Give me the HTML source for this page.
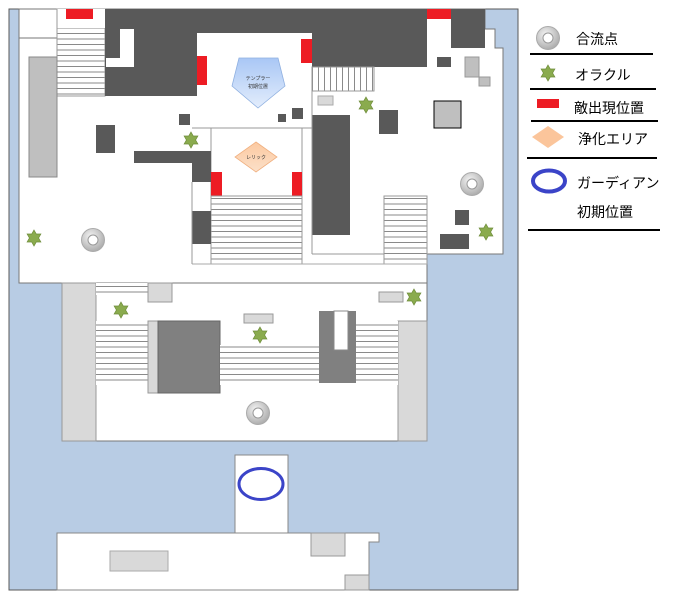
<!DOCTYPE html>
<html><head><meta charset="utf-8"><style>
html,body{margin:0;padding:0;background:#fff;}
svg{display:block;}
text{font-family:"Liberation Sans","Noto Sans CJK JP",sans-serif;}
</style></head><body>
<svg width="673" height="600" viewBox="0 0 673 600" xmlns="http://www.w3.org/2000/svg">
<defs>
<pattern id="sh" width="10" height="5.5" patternUnits="userSpaceOnUse">
<rect width="10" height="5.5" fill="#fff"/><line x1="0" y1="0.5" x2="10" y2="0.5" stroke="#8a8a8a" stroke-width="1"/></pattern>
<pattern id="sv" width="6" height="10" patternUnits="userSpaceOnUse">
<rect width="6" height="10" fill="#fff"/><line x1="0.5" y1="0" x2="0.5" y2="10" stroke="#8a8a8a" stroke-width="1"/></pattern>
<linearGradient id="bl" x1="0" y1="0" x2="0" y2="1"><stop offset="0" stop-color="#a9c7f5"/><stop offset="1" stop-color="#e3edfc"/></linearGradient>
<linearGradient id="or" x1="0" y1="0" x2="0" y2="1"><stop offset="0" stop-color="#fcc9a0"/><stop offset="1" stop-color="#fbe0c9"/></linearGradient>
<radialGradient id="cg" cx="0.4" cy="0.35" r="0.7"><stop offset="0" stop-color="#f4f4f4"/><stop offset="1" stop-color="#a8a8a8"/></radialGradient>
<g id="ring"><circle r="11.5" fill="url(#cg)" stroke="#aaa" stroke-width="1"/><circle r="5" fill="#fff" stroke="#999" stroke-width="1"/></g>
<polygon id="star" points="0,-8 2.3,-4 6.9,-4 4.6,0 6.9,4 2.3,4 0,8 -2.3,4 -6.9,4 -4.6,0 -6.9,-4 -2.3,-4" fill="#8aab4e" stroke="#6e8c3a" stroke-width="0.7"/>
</defs>
<!-- map background -->
<rect x="9" y="9" width="509" height="581" fill="#b8cce4" stroke="#5a5a5a" stroke-width="1"/>
<!-- top white area -->
<polygon points="19,9 485,9 485,29 495,29 495,48 503,48 503,254 427,254 427,321 398,321 62,321 62,283 19,283" fill="#fff" stroke="#777" stroke-width="1"/>
<rect x="62" y="283" width="365" height="158" fill="#fff" stroke="#777" stroke-width="1"/>
<line x1="19" y1="38" x2="57" y2="38" stroke="#777"/>
<!-- top-left stair -->
<rect x="57" y="9" width="48" height="87" fill="url(#sh)" stroke="#999"/>
<rect x="57" y="9" width="48" height="19" fill="#fff"/>
<line x1="57" y1="9" x2="57" y2="96" stroke="#999"/>
<rect x="66" y="9" width="27" height="10" fill="#ed1c24"/>
<!-- big dark top -->
<polygon points="105,9 427,9 427,67 312,67 312,33 197,33 197,96 105,96" fill="#595959"/>
<rect x="120" y="29" width="14" height="38" fill="#fff"/>
<rect x="106" y="58" width="28" height="9" fill="#fff"/>
<rect x="451" y="9" width="34" height="39" fill="#595959"/>
<rect x="427" y="9" width="24" height="10" fill="#ed1c24"/>
<rect x="197" y="56" width="10" height="29" fill="#ed1c24"/>
<rect x="301" y="39" width="11" height="24" fill="#ed1c24"/>
<!-- tempura room -->
<polygon points="239,58 278,58 285,86 258,108 232,86" fill="url(#bl)" stroke="#8fb0e0" stroke-width="0.8"/>
<text x="258" y="80" font-size="5" text-anchor="middle" fill="#333">テンプラー</text>
<text x="258" y="88" font-size="5" text-anchor="middle" fill="#333">初期位置</text>
<rect x="179" y="114" width="11" height="11" fill="#595959"/>
<rect x="278" y="114" width="8" height="8" fill="#595959"/>
<rect x="292" y="108" width="11" height="11" fill="#595959"/>
<line x1="192" y1="128" x2="312" y2="128" stroke="#999"/>
<!-- right of tempura -->
<rect x="312" y="67" width="62" height="24" fill="url(#sv)" stroke="#999"/>
<rect x="318" y="96" width="15" height="9" fill="#d9d9d9" stroke="#aaa"/>
<rect x="312" y="115" width="38" height="120" fill="#595959"/>
<line x1="312" y1="91" x2="312" y2="254" stroke="#999"/>
<line x1="312" y1="254" x2="384" y2="254" stroke="#999"/>
<rect x="379" y="110" width="19" height="24" fill="#595959"/>
<rect x="437" y="57" width="14" height="10" fill="#595959"/>
<rect x="465" y="57" width="14" height="20" fill="#bfbfbf" stroke="#999"/>
<rect x="479" y="77" width="11" height="9" fill="#bfbfbf" stroke="#999"/>
<rect x="434" y="101" width="27" height="27" fill="#bfbfbf" stroke="#000" stroke-width="1"/>
<rect x="455" y="210" width="14" height="15" fill="#595959"/>
<rect x="440" y="234" width="29" height="15" fill="#595959"/>
<rect x="384" y="196" width="43" height="68" fill="url(#sh)" stroke="#999"/>
<!-- relic room -->
<line x1="211" y1="128" x2="211" y2="264" stroke="#999"/>
<line x1="302" y1="128" x2="302" y2="264" stroke="#999"/>
<polygon points="256,142 277,157 256,172 235,157" fill="url(#or)" stroke="#f0b080" stroke-width="0.8"/>
<text x="256" y="159" font-size="5" text-anchor="middle" fill="#333">レリック</text>
<rect x="211" y="172" width="11" height="24" fill="#ed1c24"/>
<rect x="292" y="172" width="10" height="24" fill="#ed1c24"/>
<rect x="211" y="196" width="91" height="68" fill="url(#sh)" stroke="#999"/>
<line x1="192" y1="264" x2="427" y2="264" stroke="#aaa"/>
<!-- left column -->
<polygon points="134,151 211,151 211,182 192,182 192,163 134,163" fill="#595959"/>
<rect x="192" y="211" width="19" height="33" fill="#595959"/>
<line x1="192" y1="182" x2="192" y2="264" stroke="#999"/>
<rect x="96" y="125" width="19" height="28" fill="#595959"/>
<rect x="29" y="57" width="28" height="120" fill="#bfbfbf" stroke="#888"/>
<!-- middle block -->
<rect x="62" y="283" width="34" height="158" fill="#d9d9d9" stroke="#999"/>
<rect x="398" y="321" width="29" height="120" fill="#d9d9d9" stroke="#999"/>
<rect x="96" y="283" width="52" height="12" fill="url(#sh)"/>
<rect x="96" y="321" width="52" height="64" fill="url(#sh)"/>
<rect x="148" y="283" width="24" height="19" fill="#d9d9d9" stroke="#999"/>
<rect x="148" y="321" width="10" height="72" fill="#d9d9d9" stroke="#999"/>
<rect x="158" y="321" width="62" height="72" fill="#808080" stroke="#666"/>
<rect x="220" y="345" width="99" height="40" fill="url(#sh)"/>
<rect x="244" y="314" width="29" height="9" fill="#d9d9d9" stroke="#999"/>
<rect x="319" y="311" width="37" height="72" fill="#808080"/>
<rect x="334" y="311" width="14" height="39" fill="#fff" stroke="#888"/>
<rect x="356" y="321" width="42" height="64" fill="url(#sh)"/>
<rect x="379" y="292" width="24" height="10" fill="#d9d9d9" stroke="#999"/>
<!-- guardian -->
<rect x="235" y="455" width="53" height="78" fill="#fff" stroke="#888"/>
<ellipse cx="261" cy="484" rx="22" ry="15.5" fill="none" stroke="#3b44c8" stroke-width="3"/>
<!-- bottom block -->
<polygon points="57,533 379,533 379,542 369,542 369,590 57,590" fill="#fff" stroke="#888"/>
<rect x="311" y="533" width="34" height="23" fill="#d9d9d9" stroke="#999"/>
<rect x="110" y="551" width="58" height="20" fill="#d9d9d9" stroke="#aaa"/>
<rect x="345" y="575" width="24" height="15" fill="#d9d9d9" stroke="#999"/>
<!-- markers -->
<use href="#ring" x="93" y="240"/>
<use href="#ring" x="472" y="184"/>
<use href="#ring" x="258" y="413"/>
<use href="#star" x="191" y="140"/>
<use href="#star" x="34" y="238"/>
<use href="#star" x="366" y="105"/>
<use href="#star" x="486" y="232"/>
<use href="#star" x="121" y="310"/>
<use href="#star" x="260" y="335"/>
<use href="#star" x="414" y="297"/>
<!-- legend -->
<use href="#ring" x="548" y="38"/>
<text x="576" y="44" font-size="14" fill="#000">合流点</text>
<line x1="530" y1="54" x2="653" y2="54" stroke="#000" stroke-width="2"/>
<use href="#star" x="548" y="73"/>
<text x="575" y="80" font-size="14" fill="#000">オラクル</text>
<line x1="530" y1="89" x2="656" y2="89" stroke="#000" stroke-width="2"/>
<rect x="537" y="99" width="22" height="9" fill="#ed1c24"/>
<text x="574" y="113" font-size="14" fill="#000">敵出現位置</text>
<line x1="531" y1="121" x2="658" y2="121" stroke="#000" stroke-width="2"/>
<polygon points="548,126 564,137 548,148 532,137" fill="#fbc59b"/>
<text x="578" y="144" font-size="14" fill="#000">浄化エリア</text>
<line x1="527" y1="158" x2="657" y2="158" stroke="#000" stroke-width="2"/>
<ellipse cx="549" cy="181" rx="16" ry="10.5" fill="none" stroke="#3b44c8" stroke-width="4"/>
<text x="577" y="188" font-size="14" fill="#000">ガーディアン</text>
<text x="577" y="217" font-size="14" fill="#000">初期位置</text>
<line x1="528" y1="230" x2="660" y2="230" stroke="#000" stroke-width="2"/>
</svg>
</body></html>
